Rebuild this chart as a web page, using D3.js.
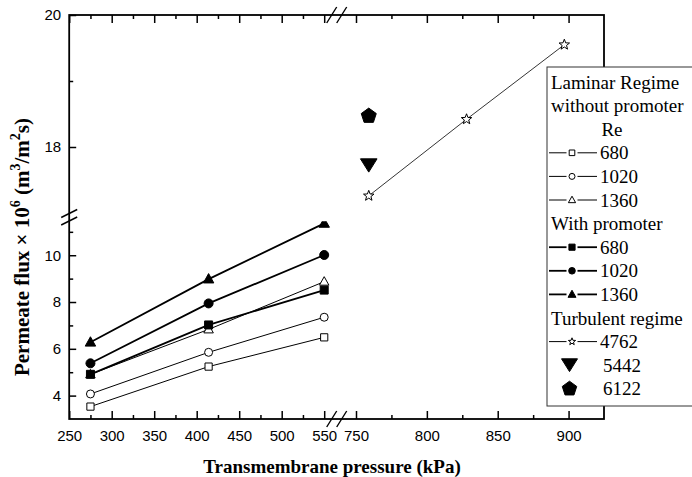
<!DOCTYPE html>
<html>
<head>
<meta charset="utf-8">
<style>
body { margin: 0; background: #fff; }
.serif { font-family: "Liberation Serif", "Times New Roman", serif; }
</style>
</head>
<body>
<svg width="692" height="477"></svg>
<script src="https://d3js.org/d3.v7.min.js"></script>
<script>

// data
var pressureLow = [275, 414, 550];
var lam680  = [3.53, 5.24, 6.49];
var lam1020 = [4.07, 5.85, 7.35];
var lam1360 = [4.91, 6.83, 8.87];
var pro680  = [4.91, 7.02, 8.51];
var pro1020 = [5.38, 7.94, 10.01];
var pro1360 = [6.28, 8.98, 11.36];

var pressureTurb = [759, 828, 897];
var turb4762 = [17.26, 18.42, 19.55];
var pressure5442 = [759], turb5442 = [17.72];
var pressure6122 = [759], turb6122 = [18.47];

var xMajor = [250, 300, 350, 400, 450, 500, 550, 750, 800, 850, 900];
var xMinor = [275, 325, 375, 425, 475, 525, 775, 825, 875];
var yMajor = [4, 6, 8, 10, 18, 20];
var yMinor = [5, 7, 9, 11, 19];

var legendRows = [
  {label: "Laminar Regime", type: "head"},
  {label: "without promoter", type: "head"},
  {label: "Re", type: "center"},
  {label: "680", shape: "square", fill: "#fff", line: 1},
  {label: "1020", shape: "circle", fill: "#fff", line: 1},
  {label: "1360", shape: "triangle", fill: "#fff", line: 1},
  {label: "With promoter", type: "head"},
  {label: "680", shape: "square", fill: "#000", line: 1.8},
  {label: "1020", shape: "circle", fill: "#000", line: 1.8},
  {label: "1360", shape: "triangle", fill: "#000", line: 1.8},
  {label: "Turbulent regime", type: "head"},
  {label: "4762", shape: "star", fill: "#fff", line: 1},
  {label: "5442", shape: "down", fill: "#000", line: 0},
  {label: "6122", shape: "pentagon", fill: "#000", line: 0}
];

var svg = d3.select("svg");
var pL = 69.2, pR = 604, pT = 15, pB = 419;

// broken axes as piecewise scales
var x = d3.scaleLinear().domain([250, 550, 750, 925]).range([pL, 324.2, 356, pR]);
var y = d3.scaleLinear().domain([3, 11.45, 17, 20]).range([pB, 221.3, 213, pT]);

var defs = svg.append("defs");
defs.append("clipPath").attr("id", "clipLow").append("rect")
    .attr("x", pL).attr("y", 221.3).attr("width", pR - pL).attr("height", pB - 221.3);
defs.append("clipPath").attr("id", "clipHigh").append("rect")
    .attr("x", pL).attr("y", pT).attr("width", pR - pL).attr("height", 213 - pT);

function shapePath(kind, r) {
  var p = d3.path(), i, a;
  if (kind === "square") {
    p.rect(-r, -r, 2 * r, 2 * r);
  } else if (kind === "circle") {
    p.arc(0, 0, r, 0, 2 * Math.PI);
  } else if (kind === "triangle") {
    p.moveTo(0, -r); p.lineTo(r * 0.95, r * 0.7); p.lineTo(-r * 0.95, r * 0.7); p.closePath();
  } else if (kind === "down") {
    p.moveTo(0, r * 0.8); p.lineTo(r, -r * 0.8); p.lineTo(-r, -r * 0.8); p.closePath();
  } else if (kind === "star") {
    for (i = 0; i < 10; i++) {
      a = -Math.PI / 2 + i * Math.PI / 5;
      var rr = i % 2 ? r * 0.42 : r;
      if (i === 0) p.moveTo(rr * Math.cos(a), rr * Math.sin(a));
      else p.lineTo(rr * Math.cos(a), rr * Math.sin(a));
    }
    p.closePath();
  } else if (kind === "pentagon") {
    for (i = 0; i < 5; i++) {
      a = -Math.PI / 2 + i * 2 * Math.PI / 5;
      if (i === 0) p.moveTo(r * Math.cos(a), r * Math.sin(a));
      else p.lineTo(r * Math.cos(a), r * Math.sin(a));
    }
    p.closePath();
  }
  return p.toString();
}

var line = d3.line().x(function(d) { return x(d[0]); }).y(function(d) { return y(d[1]); });

function drawSeries(g, xs, ys, opt) {
  var pts = xs.map(function(v, i) { return [v, ys[i]]; });
  if (opt.line) {
    g.append("path").datum(pts).attr("d", line)
        .attr("fill", "none").attr("stroke", "#000").attr("stroke-width", opt.line);
  }
  g.selectAll(null).data(pts).enter().append("path")
      .attr("transform", function(d) { return "translate(" + x(d[0]) + "," + y(d[1]) + ")"; })
      .attr("d", shapePath(opt.shape, opt.r))
      .attr("fill", opt.fill).attr("stroke", "#000").attr("stroke-width", 1);
}

var low = svg.append("g").attr("clip-path", "url(#clipLow)");
drawSeries(low, pressureLow, lam680,  {shape: "square",   r: 3.6, fill: "#fff", line: 1});
drawSeries(low, pressureLow, lam1020, {shape: "circle",   r: 4,   fill: "#fff", line: 1});
drawSeries(low, pressureLow, lam1360, {shape: "triangle", r: 5,   fill: "#fff", line: 1});
drawSeries(low, pressureLow, pro680,  {shape: "square",   r: 4,   fill: "#000", line: 1.8});
drawSeries(low, pressureLow, pro1020, {shape: "circle",   r: 4.5, fill: "#000", line: 1.8});
drawSeries(low, pressureLow, pro1360, {shape: "triangle", r: 5.5, fill: "#000", line: 1.8});

var high = svg.append("g").attr("clip-path", "url(#clipHigh)");
drawSeries(high, pressureTurb, turb4762, {shape: "star", r: 5.5, fill: "#fff", line: 0.8});
drawSeries(high, pressure5442, turb5442, {shape: "down", r: 8.3, fill: "#000", line: 0});
drawSeries(high, pressure6122, turb6122, {shape: "pentagon", r: 7.9, fill: "#000", line: 0});

// axes
function styleAxis(g) {
  g.select(".domain").remove();
  g.selectAll(".tick line").attr("stroke", "#000").attr("stroke-width", 1.5);
  g.selectAll(".tick text").attr("font-family", "'Liberation Sans', Arial, sans-serif")
      .attr("font-size", 15).attr("fill", "#000");
}

svg.append("g").attr("transform", "translate(0," + pB + ")")
    .call(d3.axisBottom(x).tickValues(xMajor).tickSize(-8).tickPadding(11).tickFormat(d3.format("d")))
    .call(styleAxis);
svg.append("g").attr("transform", "translate(0," + pB + ")")
    .call(d3.axisBottom(x).tickValues(xMinor).tickSize(-4).tickFormat(""))
    .call(styleAxis);
svg.append("g").attr("transform", "translate(0," + pT + ")")
    .call(d3.axisTop(x).tickValues(xMajor).tickSize(-8).tickFormat(""))
    .call(styleAxis);
svg.append("g").attr("transform", "translate(0," + pT + ")")
    .call(d3.axisTop(x).tickValues(xMinor).tickSize(-4).tickFormat(""))
    .call(styleAxis);
svg.append("g").attr("transform", "translate(" + pL + ",0)")
    .call(d3.axisLeft(y).tickValues(yMajor).tickSize(-7).tickPadding(8).tickFormat(d3.format("d")))
    .call(styleAxis);
svg.append("g").attr("transform", "translate(" + pL + ",0)")
    .call(d3.axisLeft(y).tickValues(yMinor).tickSize(-4).tickFormat(""))
    .call(styleAxis);

// frame
svg.append("rect").attr("x", pL).attr("y", pT)
    .attr("width", pR - pL).attr("height", pB - pT)
    .attr("fill", "none").attr("stroke", "#000").attr("stroke-width", 1.8);

// break marks
function slash(x1, y1, x2, y2) {
  svg.append("line").attr("x1", x1).attr("y1", y1).attr("x2", x2).attr("y2", y2)
      .attr("stroke", "#000").attr("stroke-width", 1.4);
}
[331.7, 341.7].forEach(function(cx) {
  slash(cx - 5, pB + 8, cx + 5, pB - 8);
  slash(cx - 5, pT + 8, cx + 5, pT - 8);
});
[213.5, 221].forEach(function(cy) {
  slash(pL - 8, cy + 4, pL + 8, cy - 4);
});

// axis titles
svg.append("text").attr("class", "serif")
    .attr("x", 332).attr("y", 473).attr("text-anchor", "middle")
    .attr("font-weight", "bold").attr("font-size", 19)
    .text("Transmembrane pressure (kPa)");

var yt = svg.append("text").attr("class", "serif")
    .attr("transform", "translate(29,247) rotate(-90)")
    .attr("text-anchor", "middle").attr("font-weight", "bold").attr("font-size", 21);
yt.append("tspan").text("Permeate flux \u00d7 10");
yt.append("tspan").attr("dy", -9).attr("font-size", 14).text("6");
yt.append("tspan").attr("dy", 9).text(" (m");
yt.append("tspan").attr("dy", -9).attr("font-size", 14).text("3");
yt.append("tspan").attr("dy", 9).text("/m");
yt.append("tspan").attr("dy", -9).attr("font-size", 14).text("2");
yt.append("tspan").attr("dy", 9).text("s)");

// legend
var lg = svg.append("g");
lg.append("rect").attr("x", 547).attr("y", 67).attr("width", 160).attr("height", 339)
    .attr("fill", "#fff").attr("stroke", "#333").attr("stroke-width", 1);

var smallR = {square: 2.8, circle: 3, triangle: 3.8, star: 3.8, down: 8, pentagon: 7.6};
legendRows.forEach(function(d, i) {
  var cy = 82 + i * 23.6;
  var tx = d.type === "head" ? 551 : d.type === "center" ? 612 : (d.line ? 600 : 603);
  lg.append("text").attr("class", "serif")
      .attr("x", tx).attr("y", cy + 6.5).attr("font-size", 19)
      .attr("text-anchor", d.type === "center" ? "middle" : "start")
      .text(d.label);
  if (d.shape) {
    if (d.line) {
      [[549, 566.5], [577.5, 597]].forEach(function(seg) {
        lg.append("line").attr("x1", seg[0]).attr("x2", seg[1]).attr("y1", cy).attr("y2", cy)
            .attr("stroke", "#000").attr("stroke-width", d.line);
      });
    }
    var sr = smallR[d.shape] * (d.fill === "#000" && d.line ? 1.1 : 1);
    lg.append("path").attr("transform", "translate(" + (d.line ? 572 : 569.5) + "," + cy + ")")
        .attr("d", shapePath(d.shape, sr))
        .attr("fill", d.fill).attr("stroke", "#000").attr("stroke-width", 1);
  }
});

</script>
</body>
</html>
